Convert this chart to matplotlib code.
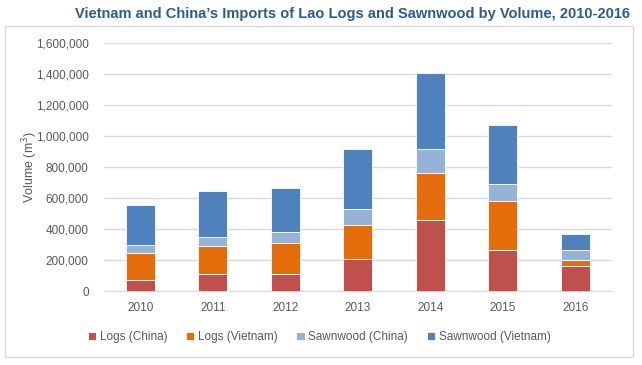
import matplotlib
matplotlib.use("Agg")
import matplotlib.pyplot as plt
from matplotlib.patches import Rectangle
from matplotlib.ticker import FuncFormatter
import numpy as np

years = ["2010", "2011", "2012", "2013", "2014", "2015", "2016"]
logs_china = [71000, 108000, 110000, 205000, 458000, 262000, 163000]
logs_vietnam = [174000, 184000, 200000, 223000, 305000, 320000, 35000]
sawn_china = [50000, 56000, 71000, 101000, 151000, 107000, 69000]
sawn_vietnam = [258000, 295000, 281000, 385000, 494000, 383000, 99000]

series = [
    ("Logs (China)", logs_china, "#C0504D"),
    ("Logs (Vietnam)", logs_vietnam, "#E46C0A"),
    ("Sawnwood (China)", sawn_china, "#95B3D7"),
    ("Sawnwood (Vietnam)", sawn_vietnam, "#4F81BD"),
]

plt.rcParams["font.family"] = ["Liberation Sans", "DejaVu Sans"]
txt = "#595959"

fig = plt.figure(figsize=(6.42, 3.65), dpi=100)
ax = fig.add_axes([104 / 642, 74 / 365, 507.5 / 642, 248 / 365])

# outer chart border
fig.patches.append(Rectangle((5 / 642, 8 / 365), 628 / 642, 331 / 365,
                             transform=fig.transFigure, fill=False,
                             edgecolor="#D9D9D9", linewidth=1))

x = np.arange(len(years))
bottom = np.zeros(len(years))
for name, vals, col in series:
    ax.bar(x, vals, 0.4, bottom=bottom, color=col, label=name,
           edgecolor="white", linewidth=0.6, zorder=3)
    bottom += np.array(vals)

ax.set_xlim(-0.5, len(years) - 0.5)
ax.set_ylim(0, 1600000)
ax.set_yticks(np.arange(0, 1600001, 200000))
ax.yaxis.set_major_formatter(FuncFormatter(lambda v, p: f"{int(v):,}"))
ax.set_xticks(x)
ax.set_xticklabels(years)
ax.grid(axis="y", color="#D9D9D9", linewidth=1, zorder=0)
for s in ["top", "right", "left"]:
    ax.spines[s].set_visible(False)
ax.spines["bottom"].set_color("#D9D9D9")
ax.tick_params(axis="both", length=0, labelsize=8.5, colors=txt)
ax.tick_params(axis="y", pad=11)
ax.tick_params(axis="x", pad=8)
ax.set_ylabel("Volume (m$^3$)", fontsize=9, color=txt, va="center")
ax.yaxis.set_label_coords(-0.146, 0.5)

leg = ax.legend(loc="upper center", bbox_to_anchor=(0.424, -0.12), ncol=4,
                frameon=False, fontsize=8.5, handlelength=0.7, handleheight=0.7,
                handletextpad=0.3, columnspacing=1.6)
for t in leg.get_texts():
    t.set_color(txt)

fig.text(630 / 642, 1 - 14 / 365,
         "Vietnam and China\u2019s Imports of Lao Logs and Sawnwood by Volume, 2010-2016",
         ha="right", va="center", fontsize=10.5, fontweight="bold",
         color="#2E5C8A")

fig.savefig("out.png", dpi=100)
